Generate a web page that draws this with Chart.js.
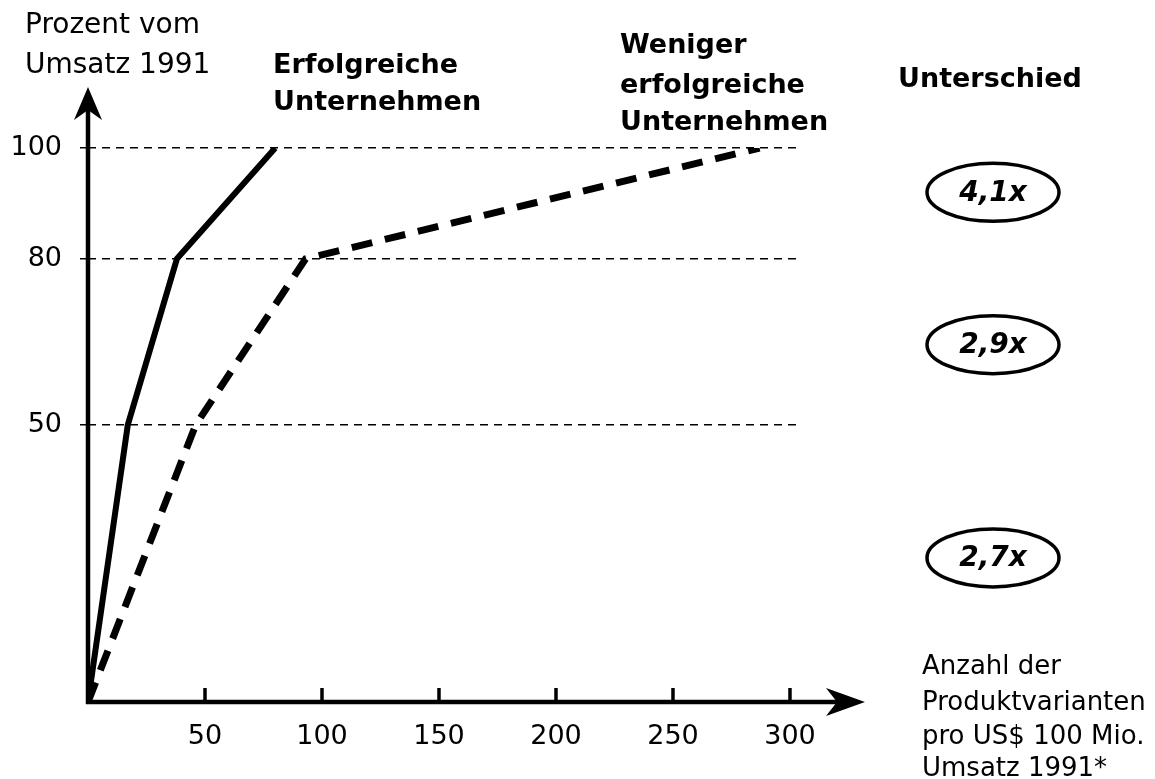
<!DOCTYPE html>
<html>
<head>
<meta charset="utf-8">
<script src="https://cdn.jsdelivr.net/npm/chart.js@4.4.1/dist/chart.umd.min.js"></script>
<style>
  body { margin: 0; background: #fff; }
  canvas { display: block; }
</style>
</head>
<body>
<canvas id="variantChart" width="1155" height="779"></canvas>
<script>
// Data
const solidX = [0, 17, 38, 80]
const solidY = [0, 50, 80, 100]
const dashedX = [0, 46, 93, 287]
const dashedY = [0, 50, 80, 100]

const xTicks = [50, 100, 150, 200, 250, 300]
const yTicks = [50, 80, 100]

// Unterschied bubbles, placed at a y value between the levels
const diffLabels = ['4,1x', '2,9x', '2,7x']
const diffLevels = [92, 64.5, 26]

const fontName = "'DejaVu Sans', sans-serif"

function toPoints(xs, ys) {
    let pts = []
    for (let i = 0; i < xs.length; i++) {
        pts.push({x: xs[i], y: ys[i]})
    }
    return pts
}

// Arrows, tick marks, titles and the bubbles on the right
const decorations = {
    id: 'decorations',
    afterDraw(chart) {
        const ctx = chart.ctx
        const x = chart.scales.x
        const y = chart.scales.y
        const x0 = x.getPixelForValue(0)
        const y0 = y.getPixelForValue(0)

        ctx.save()
        ctx.strokeStyle = '#000'
        ctx.fillStyle = '#000'
        ctx.lineCap = 'butt'

        // y axis + arrow
        ctx.lineWidth = 4.5
        ctx.beginPath()
        ctx.moveTo(x0, y0 + 2)
        ctx.lineTo(x0, 105)
        ctx.stroke()
        ctx.beginPath()
        ctx.moveTo(x0, 87)
        ctx.lineTo(x0 - 14, 120)
        ctx.lineTo(x0, 110)
        ctx.lineTo(x0 + 14, 120)
        ctx.closePath()
        ctx.fill()

        // x axis + arrow
        ctx.beginPath()
        ctx.moveTo(x0 - 2, y0)
        ctx.lineTo(848, y0)
        ctx.stroke()
        ctx.beginPath()
        ctx.moveTo(865, y0)
        ctx.lineTo(826, y0 - 14)
        ctx.lineTo(837, y0)
        ctx.lineTo(826, y0 + 14)
        ctx.closePath()
        ctx.fill()

        // x tick marks point up
        ctx.lineWidth = 3.5
        xTicks.forEach(v => {
            const px = x.getPixelForValue(v)
            ctx.beginPath()
            ctx.moveTo(px, y0)
            ctx.lineTo(px, y0 - 14)
            ctx.stroke()
        })

        // texts
        ctx.textAlign = 'left'
        ctx.textBaseline = 'alphabetic'
        ctx.font = '28px ' + fontName
        ctx.fillText('Prozent vom', 25, 33)
        ctx.fillText('Umsatz 1991', 25, 73)

        ctx.font = 'bold 27px ' + fontName
        ctx.fillText('Erfolgreiche', 273, 73)
        ctx.fillText('Unternehmen', 273, 110)
        ctx.fillText('Weniger', 620, 53)
        ctx.fillText('erfolgreiche', 620, 93)
        ctx.fillText('Unternehmen', 620, 130)
        ctx.fillText('Unterschied', 898, 87)

        ctx.font = '26px ' + fontName
        ctx.fillText('Anzahl der', 922, 674)
        ctx.fillText('Produktvarianten', 922, 710)
        ctx.fillText('pro US$ 100 Mio.', 922, 744)
        ctx.fillText('Umsatz 1991*', 922, 776)

        // bubbles
        ctx.lineWidth = 3.5
        ctx.textAlign = 'center'
        ctx.textBaseline = 'middle'
        ctx.font = 'italic bold 28px ' + fontName
        diffLabels.forEach((label, i) => {
            const cy = y.getPixelForValue(diffLevels[i])
            ctx.beginPath()
            ctx.ellipse(993, cy, 66, 29, 0, 0, Math.PI * 2)
            ctx.stroke()
            ctx.fillText(label, 993, cy + 1)
        })
        ctx.restore()
    }
}

const data = {
    datasets: [{
        label: 'Erfolgreiche Unternehmen',
        data: toPoints(solidX, solidY),
        borderColor: '#000',
        borderWidth: 6,
        pointRadius: 0,
        borderJoinStyle: 'miter'
    },
    {
        label: 'Weniger erfolgreiche Unternehmen',
        data: toPoints(dashedX, dashedY),
        borderColor: '#000',
        borderWidth: 7,
        borderDash: [21, 13],
        pointRadius: 0
    }]
}

const config = {
    type: 'line',
    data,
    options: {
        responsive: false,
        animation: false,
        devicePixelRatio: 1,
        layout: { padding: { left: 0, top: 148, right: 358, bottom: 0 } },
        plugins: { legend: { display: false }, tooltip: { enabled: false } },
        scales: {
            x: {
                type: 'linear',
                min: 0,
                max: 303,
                afterBuildTicks: s => { s.ticks = xTicks.map(v => ({value: v})) },
                afterFit: s => { s.height = 77 },
                grid: { display: false, drawTicks: false },
                border: { display: false },
                ticks: {
                    color: '#000',
                    padding: 19,
                    maxRotation: 0,
                    font: { family: fontName, size: 27 }
                }
            },
            y: {
                type: 'linear',
                min: 0,
                max: 100,
                afterBuildTicks: s => { s.ticks = yTicks.map(v => ({value: v})) },
                afterFit: s => { s.width = 88 },
                grid: {
                    color: '#000',
                    lineWidth: 1.5,
                    drawTicks: true,
                    tickLength: 8,
                    tickColor: '#000'
                },
                border: { display: false, dash: [8, 6] },
                ticks: {
                    color: '#000',
                    padding: 18,
                    font: { family: fontName, size: 27 }
                }
            }
        }
    },
    plugins: [decorations]
}

const variantChart = new Chart(document.getElementById('variantChart'), config)
</script>
</body>
</html>
